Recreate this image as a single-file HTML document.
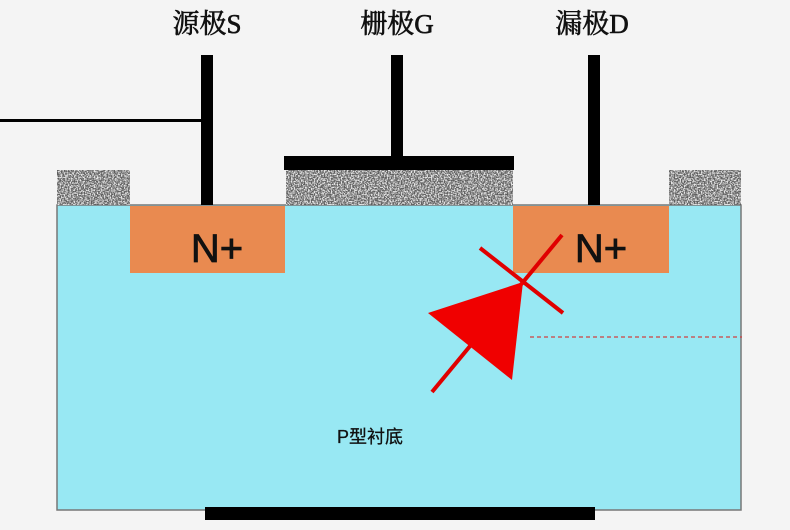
<!DOCTYPE html>
<html><head><meta charset="utf-8"><style>
html,body{margin:0;padding:0;background:#f4f4f4;width:790px;height:530px;overflow:hidden}
</style></head><body>
<svg width="790" height="530" viewBox="0 0 790 530" xmlns="http://www.w3.org/2000/svg">
<defs>
<filter id="n" x="0" y="0" width="100%" height="100%">
<feTurbulence type="fractalNoise" baseFrequency="0.7" numOctaves="2" seed="3"/>
<feColorMatrix type="matrix" values="0 0 0 0 0.8  0 0 0 0 0.8  0 0 0 0 0.8  4 0 0 0 -1.6"/>
</filter>
</defs>
<rect x="57" y="205" width="684" height="305" fill="#98e8f3" stroke="#777" stroke-width="1.5"/>
<g>
<rect x="57" y="170" width="73" height="35" fill="#5e5e5e"/>
<rect x="286" y="170" width="227" height="35" fill="#5e5e5e"/>
<rect x="669" y="170" width="72" height="35" fill="#5e5e5e"/>
<rect x="57" y="170" width="73" height="35" filter="url(#n)"/>
<rect x="286" y="170" width="227" height="35" filter="url(#n)"/>
<rect x="669" y="170" width="72" height="35" filter="url(#n)"/>
</g>
<rect x="130" y="206" width="155" height="67" fill="#e98a50"/>
<rect x="513" y="206" width="156" height="67" fill="#e98a50"/>
<text x="217" y="262" font-family="Liberation Sans, sans-serif" font-size="40" fill="#111" stroke="#111" stroke-width="0.8" text-anchor="middle">N+</text>
<text x="601" y="262" font-family="Liberation Sans, sans-serif" font-size="40" fill="#111" stroke="#111" stroke-width="0.8" text-anchor="middle">N+</text>
<rect x="284" y="156" width="230" height="14" fill="#000"/>
<rect x="391" y="55" width="12" height="101" fill="#000"/>
<rect x="201" y="55" width="12" height="150" fill="#000"/>
<rect x="588" y="55" width="12" height="150" fill="#000"/>
<rect x="0" y="119" width="205" height="3" fill="#000"/>
<rect x="205" y="507" width="390" height="13" fill="#000"/>
<g font-family="Liberation Serif, 'Noto Serif CJK SC', serif" font-size="27" fill="#111" stroke="#111" stroke-width="0.6" text-anchor="middle">
<text x="207" y="33">源极S</text>
<text x="397" y="33">栅极G</text>
<text x="592" y="33">漏极D</text>
</g>
<text x="370" y="443" font-family="Liberation Sans, 'Noto Sans CJK SC', sans-serif" font-size="18" fill="#111" stroke="#111" stroke-width="0.3" text-anchor="middle">P型衬底</text>
<line x1="530" y1="337" x2="742" y2="337" stroke="#d04040" stroke-width="1.2" stroke-dasharray="4,3"/>
<line x1="432" y1="392" x2="562" y2="235" stroke="#e00000" stroke-width="4"/>
<line x1="480" y1="248" x2="563" y2="313" stroke="#e00000" stroke-width="4"/>
<polygon points="428,313 523,282 512,380" fill="#f00000"/>
</svg>
</body></html>
